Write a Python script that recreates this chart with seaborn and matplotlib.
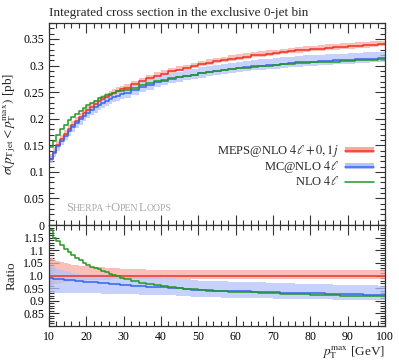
import matplotlib
matplotlib.use("Agg")
import matplotlib.pyplot as plt
import seaborn as sns
from matplotlib.lines import Line2D
from matplotlib.patches import Patch
from matplotlib.ticker import MultipleLocator, FixedLocator, FixedFormatter
from matplotlib.offsetbox import TextArea, HPacker, AnchoredOffsetbox

# bin edges: 1 GeV up to 30, 2 GeV above
edges = list(range(10, 30)) + list(range(30, 101, 2))

# MEPS@NLO 4l+0,1j integrated cross section [pb]
meps = [0.125, 0.138, 0.150, 0.161, 0.171, 0.180, 0.188, 0.196, 0.203, 0.210,
        0.216, 0.222, 0.2275, 0.2325, 0.237, 0.241, 0.245, 0.2485, 0.252, 0.255,
        0.258, 0.2645, 0.2705, 0.276, 0.281, 0.285, 0.289, 0.2925, 0.296, 0.2995,
        0.303, 0.3055, 0.308, 0.3105, 0.313, 0.315, 0.317, 0.319, 0.3205, 0.322,
        0.3235, 0.3255, 0.327, 0.3285, 0.330, 0.331, 0.332, 0.333, 0.334, 0.335,
        0.336, 0.337, 0.338, 0.339, 0.340]
meps_up = [0.068, 0.062, 0.057, 0.053, 0.049, 0.046, 0.043, 0.041, 0.039, 0.037,
           0.036, 0.035, 0.034, 0.033, 0.032, 0.031, 0.030, 0.029, 0.028, 0.027,
           0.026, 0.025, 0.024, 0.023, 0.022, 0.021, 0.021, 0.020, 0.020, 0.020,
           0.020, 0.020, 0.020, 0.020, 0.020, 0.020, 0.020, 0.020, 0.020, 0.020,
           0.020, 0.020, 0.020, 0.020, 0.020, 0.020, 0.020, 0.020, 0.020, 0.020,
           0.020, 0.020, 0.020, 0.020, 0.020]
meps_dn = [0.040, 0.035, 0.032, 0.029, 0.027, 0.025, 0.023, 0.022, 0.021, 0.020,
           0.019, 0.018, 0.018, 0.017, 0.017, 0.016, 0.016, 0.015, 0.015, 0.014,
           0.014, 0.013, 0.013, 0.013, 0.012, 0.012, 0.012, 0.012, 0.012, 0.012,
           0.012, 0.012, 0.012, 0.012, 0.012, 0.012, 0.012, 0.012, 0.012, 0.012,
           0.012, 0.012, 0.012, 0.012, 0.012, 0.012, 0.012, 0.012, 0.012, 0.012,
           0.012, 0.012, 0.012, 0.012, 0.012]

# ratios to MEPS@NLO
mcnlo_ratio = [0.989, 0.988, 0.987, 0.985, 0.984, 0.982, 0.981, 0.979, 0.978, 0.976,
               0.975, 0.974, 0.973, 0.972, 0.970, 0.969, 0.968, 0.967, 0.965, 0.964,
               0.962, 0.960, 0.958, 0.956, 0.955, 0.953, 0.951, 0.949, 0.947, 0.944,
               0.942, 0.941, 0.940, 0.939, 0.938, 0.938, 0.937, 0.936, 0.935, 0.934,
               0.933, 0.932, 0.932, 0.931, 0.930, 0.929, 0.929, 0.928, 0.927, 0.926,
               0.925, 0.925, 0.924, 0.924, 0.923]
mcnlo_up = [0.050, 0.045, 0.041, 0.037, 0.034, 0.031, 0.029, 0.027, 0.026, 0.025,
            0.025, 0.026, 0.027, 0.028, 0.029, 0.030, 0.031, 0.032, 0.033, 0.034,
            0.035, 0.036, 0.037, 0.038, 0.039, 0.040, 0.040, 0.040, 0.040, 0.040,
            0.040, 0.040, 0.040, 0.040, 0.040, 0.040, 0.040, 0.040, 0.040, 0.040,
            0.040, 0.040, 0.040, 0.040, 0.040, 0.040, 0.040, 0.040, 0.040, 0.040,
            0.040, 0.040, 0.040, 0.040, 0.040]
mcnlo_dn = [0.060, 0.058, 0.056, 0.054, 0.053, 0.052, 0.051, 0.050, 0.049, 0.048,
            0.047, 0.046, 0.045, 0.044, 0.043, 0.042, 0.041, 0.040, 0.039, 0.038,
            0.037, 0.036, 0.035, 0.034, 0.033, 0.032, 0.031, 0.030, 0.030, 0.029,
            0.029, 0.028, 0.028, 0.028, 0.027, 0.027, 0.027, 0.026, 0.026, 0.026,
            0.026, 0.025, 0.025, 0.025, 0.025, 0.025, 0.024, 0.024, 0.024, 0.024,
            0.024, 0.023, 0.023, 0.023, 0.023]
nlo_ratio = [1.180, 1.150, 1.135, 1.120, 1.105, 1.093, 1.080, 1.070, 1.060, 1.050,
             1.042, 1.035, 1.029, 1.024, 1.018, 1.013, 1.007, 1.002, 0.997, 0.992,
             0.986, 0.978, 0.972, 0.967, 0.962, 0.958, 0.954, 0.951, 0.948, 0.945,
             0.942, 0.940, 0.939, 0.937, 0.936, 0.935, 0.934, 0.933, 0.932, 0.930,
             0.929, 0.928, 0.927, 0.926, 0.925, 0.924, 0.923, 0.922, 0.921, 0.920,
             0.920, 0.919, 0.919, 0.918, 0.918]

red, red_band = "#ee3322", "#f7aaa0"
blue, blue_band = "#3366ee", "#b4c4fa"
green = "#229922"

sns.set_style("ticks")
plt.rcParams["font.family"] = ["Liberation Serif", "DejaVu Serif"]
plt.rcParams["mathtext.fontset"] = "stix"

mc = [m * r for m, r in zip(meps, mcnlo_ratio)]
nlo = [m * r for m, r in zip(meps, nlo_ratio)]


def ext(v):
    return list(v) + [v[-1]]


def step(ax, vals, color):
    sns.lineplot(x=edges, y=ext(vals), drawstyle="steps-post", color=color,
                 lw=1.1, ax=ax, estimator=None, legend=False)


def band(ax, lo, hi, color):
    ax.fill_between(edges, ext(lo), ext(hi), step="post", color=color, lw=0, alpha=0.75)


fig = plt.figure(figsize=(3.99, 3.6), dpi=100)
ax = fig.add_axes([0.1228, 0.375, 0.8421, 0.561])
rax = fig.add_axes([0.1228, 0.0944, 0.8421, 0.2806])

# main panel
band(ax, [m * (1 - d) for m, d in zip(meps, meps_dn)], [m * (1 + u) for m, u in zip(meps, meps_up)], red_band)
band(ax, [m * (1 - d) for m, d in zip(mc, mcnlo_dn)], [m * (1 + u) for m, u in zip(mc, mcnlo_up)], blue_band)
step(ax, meps, red)
step(ax, mc, blue)
step(ax, nlo, green)

# ratio panel
band(rax, [1 - d for d in meps_dn], [1 + u for u in meps_up], red_band)
band(rax, [r * (1 - d) for r, d in zip(mcnlo_ratio, mcnlo_dn)],
     [r * (1 + u) for r, u in zip(mcnlo_ratio, mcnlo_up)], blue_band)
step(rax, [1.0] * len(meps), red)
step(rax, mcnlo_ratio, blue)
step(rax, nlo_ratio, green)

for a in (ax, rax):
    a.set_xlim(10, 100)
    a.xaxis.set_major_locator(MultipleLocator(10))
    a.xaxis.set_minor_locator(MultipleLocator(2))
    a.tick_params(which="both", direction="in", top=True, right=True, colors="#333333",
                  labelcolor="black", labelsize=8.5, width=0.8)
    a.tick_params(which="major", length=7)
    a.tick_params(which="minor", length=3.5)
    for s in a.spines.values():
        s.set_color("#333333")
        s.set_linewidth(0.9)
    a.set_xlabel("")
    a.set_ylabel("")

ax.set_ylim(0, 0.38)
ax.yaxis.set_major_locator(MultipleLocator(0.05))
ax.yaxis.set_minor_locator(MultipleLocator(0.01))
ax.yaxis.set_major_formatter(matplotlib.ticker.FuncFormatter(lambda v, p: f"{v:.2f}".rstrip("0").rstrip(".") if v else "0"))
ax.tick_params(labelbottom=False)

rax.set_ylim(0.8, 1.2)
rticks = [0.85, 0.9, 0.95, 1.0, 1.05, 1.1, 1.15]
rax.yaxis.set_major_locator(FixedLocator(rticks))
rax.yaxis.set_major_formatter(FixedFormatter(["0.85", "0.9", "0.95", "1.0", "1.05", "1.1", "1.15"]))
rax.yaxis.set_minor_locator(MultipleLocator(0.01))

ax.set_ylabel(r"$\sigma(p_{\mathrm{T\,jet}} < p_{\mathrm{T}}^{\mathrm{max}})$ [pb]", fontsize=9.5)
rax.set_ylabel("Ratio", fontsize=9.5)
rax.set_xlabel(r"$p_{\mathrm{T}}^{\mathrm{max}}$ [GeV]", fontsize=9.5, loc="right", labelpad=1)
fig.align_ylabels([ax, rax])
ax.set_title("Integrated cross section in the exclusive 0-jet bin", loc="left", fontsize=9.5, pad=5)

handles = [(Patch(facecolor=red_band, edgecolor="none"), Line2D([], [], color=red, lw=1.1)),
           (Patch(facecolor=blue_band, edgecolor="none"), Line2D([], [], color=blue, lw=1.1)),
           Line2D([], [], color=green, lw=1.1)]
labels = [r"MEPS@NLO $4\ell+0,1j$", r"MC@NLO $4\ell$", r"NLO $4\ell$"]
ax.legend(handles, labels, loc="lower right", bbox_to_anchor=(0.985, 0.15), frameon=False,
          markerfirst=False, fontsize=9, handlelength=2.3, handleheight=0.35,
          labelspacing=0.0, handletextpad=0.5, borderpad=0)

# Sherpa+OpenLoops in small caps
parts = [("S", 9), ("HERPA", 7), ("+O", 9), ("PEN", 7), ("L", 9), ("OOPS", 7)]
box = HPacker(children=[TextArea(t, textprops=dict(size=s, color="#aaaaaa")) for t, s in parts],
              align="baseline", pad=0, sep=0)
ab = AnchoredOffsetbox(loc="lower left", child=box, pad=0, frameon=False,
                       bbox_to_anchor=(0.05, 0.055), bbox_transform=ax.transAxes, borderpad=0)
ax.add_artist(ab)

fig.savefig("out.png", dpi=100)
